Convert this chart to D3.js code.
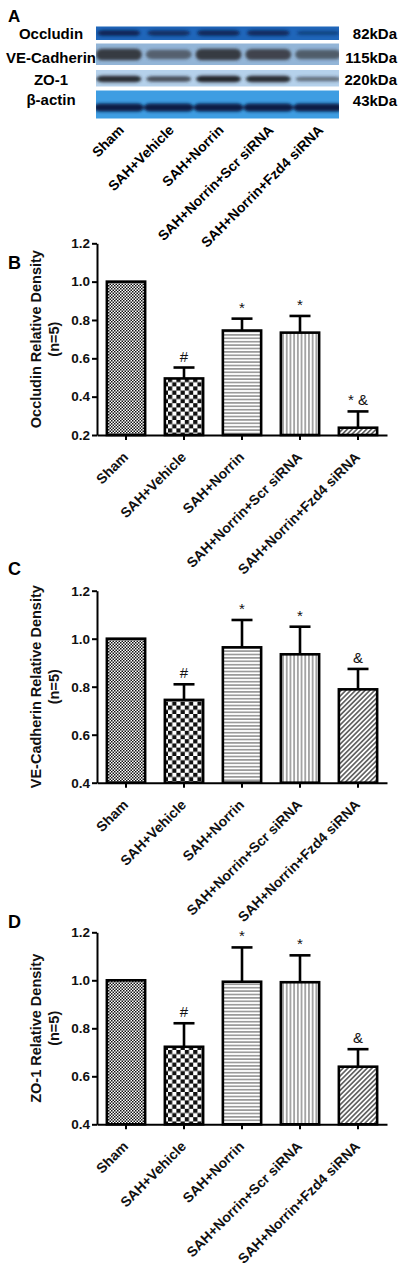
<!DOCTYPE html>
<html><head><meta charset="utf-8">
<script src="https://cdn.jsdelivr.net/npm/d3@7"></script>
<style>body{margin:0;background:#fff} svg{display:block}</style>
</head><body>
<svg id="chart" width="400" height="1268"></svg>
<script>
// ---------- data ----------
const categories = ["Sham","SAH+Vehicle","SAH+Norrin","SAH+Norrin+Scr siRNA","SAH+Norrin+Fzd4 siRNA"];

const occludinMean = [1.0, 0.495, 0.745, 0.734, 0.238];
const occludinSem  = [0, 0.057, 0.062, 0.087, 0.085];
const occludinSig  = ["", "#", "*", "*", "* &"];

const veCadMean = [1.0, 0.745, 0.964, 0.935, 0.789];
const veCadSem  = [0, 0.065, 0.114, 0.115, 0.085];
const veCadSig  = ["", "#", "*", "*", "&"];

const zo1Mean = [1.0, 0.723, 0.994, 0.992, 0.640];
const zo1Sem  = [0, 0.098, 0.143, 0.112, 0.073];
const zo1Sig  = ["", "#", "*", "*", "&"];

const yTicksB  = [0.2, 0.4, 0.6, 0.8, 1.0, 1.2];
const yTicksCD = [0.4, 0.6, 0.8, 1.0, 1.2];

const blotProteins = ["Occludin", "VE-Cadherin", "ZO-1", "β-actin"];
const blotWeights  = ["82kDa", "115kDa", "220kDa", "43kDa"];
// apparent band darkness per lane (0-1)
const blotOccludin = [0.9, 0.75, 0.85, 0.8, 0.35];
const blotVeCad    = [0.95, 0.55, 0.95, 0.85, 0.6];
const blotZo1      = [0.95, 0.7, 1.0, 0.95, 0.45];
const blotActin    = [1, 1, 1, 1, 1];

// ---------- drawing ----------
const svg = d3.select("#chart");
const FONT = "'Liberation Sans', Arial, Helvetica, sans-serif";
const defs = svg.append("defs");

// patterns
function pat(id, w, h, build, transform) {
  const p = defs.append("pattern").attr("id", id).attr("patternUnits", "userSpaceOnUse")
    .attr("width", w).attr("height", h);
  if (transform) p.attr("patternTransform", transform);
  p.append("rect").attr("width", w).attr("height", h).attr("fill", "#fff");
  build(p);
}
pat("p0", 3, 3, p => {
  p.append("rect").attr("x", 0).attr("y", 0).attr("width", 1.5).attr("height", 1.5).attr("fill", "#111");
  p.append("rect").attr("x", 1.5).attr("y", 1.5).attr("width", 1.5).attr("height", 1.5).attr("fill", "#111");
});
pat("p1", 8.4, 8.4, p => {
  p.append("rect").attr("x", 0).attr("y", 0).attr("width", 4.2).attr("height", 4.2).attr("fill", "#111");
  p.append("rect").attr("x", 4.2).attr("y", 4.2).attr("width", 4.2).attr("height", 4.2).attr("fill", "#111");
});
pat("p2", 10, 3.4, p => {
  p.append("line").attr("x1", 0).attr("x2", 10).attr("y1", 1.7).attr("y2", 1.7).attr("stroke", "#555").attr("stroke-width", 1);
});
pat("p3", 3.7, 10, p => {
  p.append("line").attr("y1", 0).attr("y2", 10).attr("x1", 1.85).attr("x2", 1.85).attr("stroke", "#555").attr("stroke-width", 1);
});
pat("p4", 3.4, 10, p => {
  p.append("line").attr("y1", 0).attr("y2", 10).attr("x1", 1.7).attr("x2", 1.7).attr("stroke", "#333").attr("stroke-width", 1.3);
}, "rotate(45)");
const patterns = ["url(#p0)", "url(#p1)", "url(#p2)", "url(#p3)", "url(#p4)"];

// blur filter for blot
const f = defs.append("filter").attr("id", "blur").attr("x", "-20%").attr("y", "-50%").attr("width", "140%").attr("height", "200%");
f.append("feGaussianBlur").attr("stdDeviation", 1.6);

// ---------- Panel A : blot ----------
svg.append("text").attr("x", 8).attr("y", 22).text("A")
  .attr("font-family", FONT).attr("font-weight", "bold").attr("font-size", 17);

const lane = d3.scaleBand().domain(categories).range([94, 343]);
const strips = [
  {y: 26.5, h: 13.5, bg: "#1f66ba", band: "#0a1d4c", by: 33, bh: 6,  w: 0.86, data: blotOccludin},
  {y: 43.5, h: 21.5, bg: "#93b5d7", band: "#34363b", by: 54.5, bh: 12, w: 0.92, data: blotVeCad},
  {y: 70,   h: 16.5, bg: "#b5d1eb", band: "#24272c", by: 79, bh: 6.5, w: 0.9, data: blotZo1},
  {y: 90.5, h: 28,   bg: "#3e9de2", band: "#081a44", by: 107.5, bh: 8, w: 1.0, data: blotActin}
];
const blot = svg.append("g");
strips.forEach((s, i) => {
  blot.append("rect").attr("x", 96).attr("y", s.y).attr("width", 243).attr("height", s.h).attr("fill", s.bg);
  const clipId = "clip" + i;
  defs.append("clipPath").attr("id", clipId).append("rect")
    .attr("x", 96).attr("y", s.y).attr("width", 243).attr("height", s.h);
  const g = blot.append("g").attr("clip-path", `url(#${clipId})`).append("g").attr("filter", "url(#blur)");
  g.selectAll("rect").data(s.data).join("rect")
    .attr("x", (d, j) => lane(categories[j]) + lane.bandwidth() * (1 - s.w) / 2)
    .attr("width", lane.bandwidth() * s.w)
    .attr("y", d => s.by - s.bh * (0.5 + 0.5 * d) / 2)
    .attr("height", d => s.bh * (0.5 + 0.5 * d))
    .attr("rx", 6)
    .attr("fill", s.band)
    .attr("opacity", d => 0.25 + 0.75 * d);
  blot.append("text").attr("x", 51).attr("y", [38.5, 62.5, 85, 105][i])
    .attr("text-anchor", "middle").text(blotProteins[i])
    .attr("font-family", FONT).attr("font-weight", "bold").attr("font-size", 15);
  blot.append("text").attr("x", 397).attr("y", [38.5, 62.5, 85, 106][i])
    .attr("text-anchor", "end").text(blotWeights[i])
    .attr("font-family", FONT).attr("font-weight", "bold").attr("font-size", 15);
});
blot.selectAll("text.lane").data(categories).join("text").attr("class", "lane")
  .attr("text-anchor", "end")
  .attr("transform", d => `translate(${lane(d) + lane.bandwidth() / 2 + 6},131) rotate(-45)`)
  .attr("font-family", FONT).attr("font-weight", "bold").attr("font-size", 14)
  .text(d => d);

// ---------- bar panels ----------
function barPanel(opt) {
  const g = svg.append("g");
  const x = d3.scaleBand().domain(categories).range([97, 387]).padding(0);
  const y = d3.scaleLinear().domain(opt.domain).range([opt.bottom, opt.top]);
  const bw = x.bandwidth() * 0.66;

  g.append("text").attr("x", 8).attr("y", opt.letterY).text(opt.letter)
    .attr("font-family", FONT).attr("font-weight", "bold").attr("font-size", 18);

  // bars
  g.selectAll("rect.bar").data(opt.mean).join("rect").attr("class", "bar")
    .attr("x", (d, i) => x(categories[i]) + (x.bandwidth() - bw) / 2)
    .attr("width", bw)
    .attr("y", d => y(d))
    .attr("height", d => y(opt.domain[0]) - y(d))
    .attr("fill", (d, i) => patterns[i])
    .attr("stroke", "#000").attr("stroke-width", 2.6);

  // error bars (upper)
  const eb = g.selectAll("g.err").data(opt.mean.map((m, i) => ({m, s: opt.sem[i], c: categories[i]})).filter(d => d.s > 0))
    .join("g").attr("class", "err").attr("stroke", "#000").attr("stroke-width", 2.6);
  eb.append("line").attr("x1", d => x(d.c) + x.bandwidth() / 2).attr("x2", d => x(d.c) + x.bandwidth() / 2)
    .attr("y1", d => y(d.m)).attr("y2", d => y(d.m + d.s));
  eb.append("line").attr("x1", d => x(d.c) + x.bandwidth() / 2 - 10.5).attr("x2", d => x(d.c) + x.bandwidth() / 2 + 10.5)
    .attr("y1", d => y(d.m + d.s)).attr("y2", d => y(d.m + d.s));

  // significance marks
  g.selectAll("text.sig").data(opt.sig).join("text").attr("class", "sig")
    .attr("x", (d, i) => x(categories[i]) + x.bandwidth() / 2)
    .attr("y", (d, i) => y(opt.mean[i] + opt.sem[i]) - 6)
    .attr("text-anchor", "middle")
    .attr("font-family", FONT).attr("font-size", 15).attr("fill", "#111")
    .text(d => d);

  // axes
  const ya = g.append("g").attr("transform", "translate(97,0)")
    .call(d3.axisLeft(y).tickValues(opt.ticks).tickSize(5).tickSizeOuter(0).tickPadding(2).tickFormat(d3.format(".1f")));
  ya.select(".domain").attr("stroke-width", 2);
  ya.selectAll(".tick line").attr("stroke-width", 2);
  ya.selectAll("text").attr("font-family", FONT).attr("font-weight", "bold").attr("font-size", 13.5).attr("fill", "#111");

  const xa = g.append("g").attr("transform", `translate(0,${opt.bottom})`)
    .call(d3.axisBottom(x).tickSize(5).tickSizeOuter(0).tickFormat(""));
  xa.select(".domain").attr("stroke-width", 2);
  xa.selectAll(".tick line").attr("stroke-width", 2);

  g.selectAll("text.xl").data(categories).join("text").attr("class", "xl")
    .attr("text-anchor", "end")
    .attr("transform", d => `translate(${x(d) + x.bandwidth() / 2 + 3},${opt.bottom + 23}) rotate(-45)`)
    .attr("font-family", FONT).attr("font-weight", "bold").attr("font-size", 14).attr("fill", "#111")
    .text(d => d);

  // y title
  const cy = (opt.top + opt.bottom) / 2;
  g.append("text").attr("transform", `translate(40.5,${cy}) rotate(-90)`).attr("text-anchor", "middle")
    .attr("font-family", FONT).attr("font-weight", "bold").attr("font-size", 14.5).attr("fill", "#111")
    .text(opt.title);
  g.append("text").attr("transform", `translate(59,${cy}) rotate(-90)`).attr("text-anchor", "middle")
    .attr("font-family", FONT).attr("font-weight", "bold").attr("font-size", 14.5).attr("fill", "#111")
    .text("(n=5)");
}

barPanel({letter: "B", letterY: 269, domain: [0.2, 1.2], top: 243.3, bottom: 435, ticks: yTicksB,
  mean: occludinMean, sem: occludinSem, sig: occludinSig, title: "Occludin Relative Density"});
barPanel({letter: "C", letterY: 575, domain: [0.4, 1.2], top: 590.7, bottom: 782.7, ticks: yTicksCD,
  mean: veCadMean, sem: veCadSem, sig: veCadSig, title: "VE-Cadherin Relative Density"});
barPanel({letter: "D", letterY: 928, domain: [0.4, 1.2], top: 932.3, bottom: 1124.3, ticks: yTicksCD,
  mean: zo1Mean, sem: zo1Sem, sig: zo1Sig, title: "ZO-1 Relative Density"});
</script>
</body></html>
